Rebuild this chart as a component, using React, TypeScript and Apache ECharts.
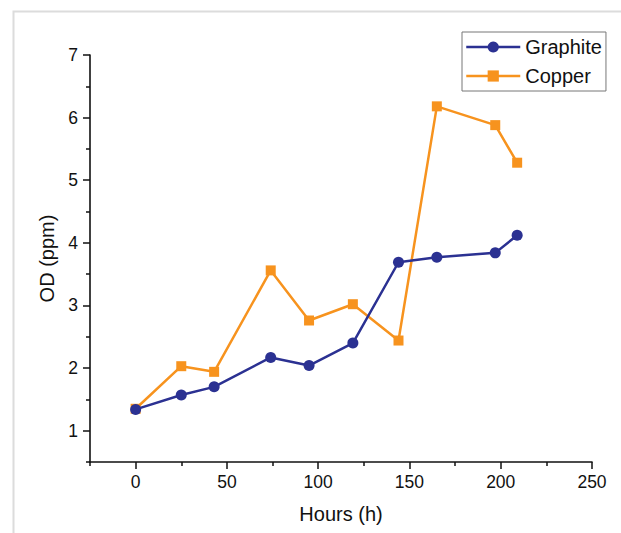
import React, { useEffect, useRef } from 'react';
import * as echarts from 'echarts';

const hours = [0, 25, 43, 74, 95, 119, 144, 165, 197, 209];
const graphite = [1.34, 1.57, 1.7, 2.17, 2.04, 2.4, 3.69, 3.77, 3.84, 4.12];
const copper = [1.35, 2.03, 1.94, 3.56, 2.76, 3.02, 2.44, 6.18, 5.88, 5.28];
const xMajorTicks = [0, 50, 100, 150, 200, 250];
const xMinorTicks = [-25, 25, 75, 125, 175, 225];
const yMajorTicks = [1, 2, 3, 4, 5, 6, 7];
const yMinorTicks = [0.5, 1.5, 2.5, 3.5, 4.5, 5.5, 6.5];

const FONT = '"Liberation Sans", Arial, Helvetica, sans-serif';
const BLUE = '#2B3192';
const ORANGE = '#F7931E';

export default function App() {
  const ref = useRef<HTMLDivElement>(null);
  useEffect(() => {
    if (!ref.current) return;
    const chart = echarts.init(ref.current, undefined, { renderer: 'svg' });
    const axisLine = { show: true, onZero: false, lineStyle: { color: '#111', width: 1.6 } };
    chart.setOption({
      animation: false,
      backgroundColor: '#fff',
      textStyle: { fontFamily: FONT },
      graphic: [
        {
          type: 'rect',
          shape: { x: 13.5, y: 11.5, width: 700, height: 600 },
          style: { fill: 'none', stroke: '#dcdcdc', lineWidth: 2 },
          silent: true,
          z: -10,
        },
      ],
      grid: { left: 90, right: 29, top: 55, bottom: 71 },
      legend: {
        data: [
          { name: 'Graphite', lineStyle: { width: 2.5, color: BLUE } },
          { name: 'Copper', lineStyle: { width: 2.5, color: ORANGE } },
        ],
        orient: 'vertical',
        left: 462,
        top: 32,
        itemWidth: 54,
        itemHeight: 14,
        itemGap: 9,
        padding: [5, 4, 5, 3],
        borderColor: '#777',
        borderWidth: 1,
        textStyle: { fontSize: 20, color: '#111', fontFamily: FONT, lineHeight: 20 },
      },
      xAxis: [
        {
          type: 'value',
          min: -25,
          max: 250,
          name: 'Hours (h)',
          nameLocation: 'middle',
          nameGap: 42,
          nameTextStyle: { fontSize: 20, color: '#111', fontFamily: FONT },
          axisLine,
          axisTick: { show: true, customValues: xMajorTicks, length: 7, lineStyle: { color: '#111', width: 1.5 } },
          axisLabel: { customValues: xMajorTicks, fontSize: 17.5, color: '#111', margin: 11, fontFamily: FONT },
          splitLine: { show: false },
        },
        {
          type: 'value',
          min: -25,
          max: 250,
          position: 'bottom',
          axisLine: { show: false, onZero: false },
          axisTick: { show: true, customValues: xMinorTicks, length: 4, lineStyle: { color: '#111', width: 1.5 } },
          axisLabel: { show: false },
          splitLine: { show: false },
        },
      ],
      yAxis: [
        {
          type: 'value',
          min: 0.5,
          max: 7,
          name: 'OD (ppm)',
          nameLocation: 'middle',
          nameGap: 24,
          nameTextStyle: { fontSize: 20, color: '#111', fontFamily: FONT },
          axisLine,
          axisTick: { show: true, customValues: yMajorTicks, length: 7, lineStyle: { color: '#111', width: 1.5 } },
          axisLabel: { customValues: yMajorTicks, fontSize: 17.5, color: '#111', margin: 12, fontFamily: FONT },
          splitLine: { show: false },
        },
        {
          type: 'value',
          min: 0.5,
          max: 7,
          position: 'left',
          axisLine: { show: false, onZero: false },
          axisTick: { show: true, customValues: yMinorTicks, length: 4, lineStyle: { color: '#111', width: 1.5 } },
          axisLabel: { show: false },
          splitLine: { show: false },
        },
      ],
      series: [
        {
          name: 'Graphite',
          type: 'line',
          xAxisIndex: 0,
          yAxisIndex: 0,
          data: hours.map((h, i) => [h, graphite[i]]),
          symbol: 'circle',
          symbolSize: 11,
          z: 3,
          lineStyle: { color: BLUE, width: 2.5 },
          itemStyle: { color: BLUE },
        },
        {
          name: 'Copper',
          type: 'line',
          xAxisIndex: 0,
          yAxisIndex: 0,
          data: hours.map((h, i) => [h, copper[i]]),
          symbol: 'rect',
          symbolSize: 10,
          z: 2,
          lineStyle: { color: ORANGE, width: 2.5 },
          itemStyle: { color: ORANGE },
        },
      ],
    });
    return () => chart.dispose();
  }, []);
  return (
    <div style={{ position: 'fixed', left: 0, top: 0, width: 621, height: 533, background: '#fff' }}>
      <div ref={ref} style={{ width: 621, height: 533 }} />
    </div>
  );
}
